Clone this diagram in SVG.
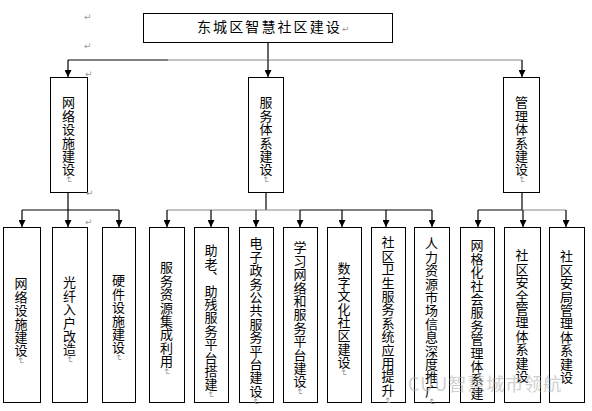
<svg xmlns="http://www.w3.org/2000/svg" width="592" height="411" viewBox="0 0 592 411">
<style>
.box{fill:#fff;stroke:#000;stroke-width:1}
.ln{fill:none;stroke:#000;stroke-width:1.2}
.lg{fill:none;stroke:#888;stroke-width:1.2}
.ar{marker-end:url(#ar)}
.t{font-family:"Noto Sans CJK SC","Noto Sans CJK TC",sans-serif;font-size:13px;fill:#000}
.v{writing-mode:vertical-rl;letter-spacing:0.4px}
.pm{font-family:"DejaVu Sans",sans-serif;font-size:9px;fill:#999}
.wm{font-family:"Noto Sans CJK SC",sans-serif;font-size:18px;fill:#aaa;opacity:0.55}
</style>
<defs>
<marker id="ar" markerUnits="userSpaceOnUse" markerWidth="7" markerHeight="7" refX="7" refY="3.5" orient="auto" viewBox="0 0 7 7">
<path d="M0,0 L7,3.5 L0,7 Z" fill="#000"/>
</marker>
</defs>
<rect width="592" height="411" fill="#fff"/>
<g id="connectors">
<line class="ln" x1="268" y1="42" x2="268" y2="60"/>
<line class="ln" x1="68" y1="60" x2="168" y2="60"/>
<line class="lg" x1="168" y1="60" x2="522" y2="60"/>
<line class="ln ar" x1="68" y1="60" x2="68" y2="77"/>
<line class="ln ar" x1="268" y1="60" x2="268" y2="77"/>
<line class="ln ar" x1="522" y1="60" x2="522" y2="77"/>
<line class="ln" x1="68" y1="192" x2="68" y2="210"/>
<line class="ln" x1="22" y1="210" x2="119" y2="210"/>
<line class="ln ar" x1="22" y1="210" x2="22" y2="227"/>
<line class="ln ar" x1="68" y1="210" x2="68" y2="227"/>
<line class="ln ar" x1="119" y1="210" x2="119" y2="227"/>
<line class="ln" x1="266" y1="192" x2="266" y2="210"/>
<line class="lg" x1="167" y1="210" x2="300" y2="210"/>
<line class="ln" x1="300" y1="210" x2="432" y2="210"/>
<line class="ln ar" x1="167" y1="210" x2="167" y2="227"/>
<line class="ln ar" x1="211" y1="210" x2="211" y2="227"/>
<line class="ln ar" x1="256" y1="210" x2="256" y2="227"/>
<line class="ln ar" x1="300" y1="210" x2="300" y2="227"/>
<line class="ln ar" x1="342" y1="210" x2="342" y2="227"/>
<line class="ln ar" x1="386" y1="210" x2="386" y2="227"/>
<line class="ln ar" x1="432" y1="210" x2="432" y2="227"/>
<line class="ln" x1="522" y1="192" x2="522" y2="210"/>
<line class="ln" x1="478" y1="210" x2="522" y2="210"/>
<line class="lg" x1="522" y1="210" x2="566" y2="210"/>
<line class="ln ar" x1="478" y1="210" x2="478" y2="227"/>
<line class="ln ar" x1="523" y1="210" x2="523" y2="227"/>
<line class="ln ar" x1="566" y1="210" x2="566" y2="227"/>
</g>
<g id="root">
<rect class="box" x="143.5" y="13.5" width="249" height="29"/>
<text class="t" x="197" y="32" style="font-size:14px;letter-spacing:2.1px">东城区智慧社区建设<tspan class="pm" style="letter-spacing:0">↵</tspan></text>
</g>
<g id="n-net">
<rect class="box" x="50.5" y="77.5" width="37" height="115"/>
<text class="t v" x="68.5" y="96">网络设施建设<tspan class="pm">↵</tspan></text>
</g>
<g id="n-svc">
<rect class="box" x="248.5" y="77.5" width="35" height="115"/>
<text class="t v" x="266" y="96">服务体系建设<tspan class="pm">↵</tspan></text>
</g>
<g id="n-mgmt">
<rect class="box" x="503.5" y="77.5" width="36" height="115"/>
<text class="t v" x="521.5" y="96">管理体系建设<tspan class="pm">↵</tspan></text>
</g>
<g id="n1">
<rect class="box" x="3.5" y="227.5" width="37" height="175"/>
<text class="t v" x="21" y="277">网络设施建设<tspan class="pm">↵</tspan></text>
</g>
<g id="n2">
<rect class="box" x="52.5" y="227.5" width="35" height="175"/>
<text class="t v" x="69.5" y="276">光纤入户改造<tspan class="pm">↵</tspan></text>
</g>
<g id="n3">
<rect class="box" x="102.5" y="227.5" width="33" height="175"/>
<text class="t v" x="118.5" y="274">硬件设施建设<tspan class="pm">↵</tspan></text>
</g>
<g id="n4">
<rect class="box" x="149.5" y="227.5" width="35" height="175"/>
<text class="t v" x="166.5" y="261">服务资源集成利用<tspan class="pm">↵</tspan></text>
</g>
<g id="n5">
<rect class="box" x="194.5" y="227.5" width="34" height="175"/>
<text class="t v" x="211" y="244">助老、助残服务平台搭建<tspan class="pm">↵</tspan></text>
</g>
<g id="n6">
<rect class="box" x="239.5" y="227.5" width="34" height="175"/>
<text class="t v" x="256" y="237">电子政务公共服务平台建设<tspan class="pm">↵</tspan></text>
</g>
<g id="n7">
<rect class="box" x="283.5" y="227.5" width="34" height="175"/>
<text class="t v" x="300" y="241">学习网络和服务平台建设<tspan class="pm">↵</tspan></text>
</g>
<g id="n8">
<rect class="box" x="327.5" y="227.5" width="34" height="175"/>
<text class="t v" x="344" y="262">数字文化社区建设<tspan class="pm">↵</tspan></text>
</g>
<g id="n9">
<rect class="box" x="371.5" y="227.5" width="34" height="175"/>
<text class="t v" x="388" y="236">社区卫生服务系统应用提升<tspan class="pm">↵</tspan></text>
</g>
<g id="n10">
<rect class="box" x="414.5" y="227.5" width="35" height="175"/>
<text class="t v" x="431.5" y="237">人力资源市场信息深度推广<tspan class="pm">↵</tspan></text>
</g>
<g id="n11">
<rect class="box" x="460.5" y="227.5" width="34" height="175"/>
<text class="t v" x="477" y="239">网格化社会服务管理体系建</text>
</g>
<g id="n12">
<rect class="box" x="504.5" y="227.5" width="36" height="175"/>
<text class="t v" x="522" y="249">社区安全管理体系建设</text>
</g>
<g id="n13">
<rect class="box" x="549.5" y="227.5" width="35" height="175"/>
<text class="t v" x="566.5" y="250">社区安局管理体系建设</text>
</g>
<g id="marks">
<text class="pm" x="84" y="20">↵</text>
<text class="pm" x="84" y="49">↵</text>
<text class="pm" x="85" y="77">↵</text>
<text class="pm" x="86" y="196">↵</text>
<text class="pm" x="85" y="225">↵</text>
</g>
<text class="wm" x="408" y="391" style="letter-spacing:1px">CUU智慧城市领航</text>
</svg>
